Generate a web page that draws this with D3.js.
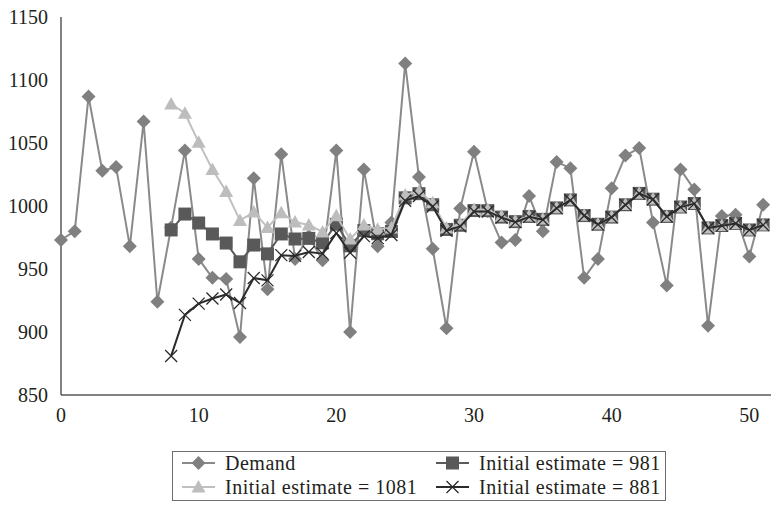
<!DOCTYPE html>
<html>
<head>
<meta charset="utf-8">
<script src="https://cdn.jsdelivr.net/npm/d3@7"></script>
<style>
  body { margin: 0; background: #fff; }
  svg text { font-family: "Liberation Serif", "DejaVu Serif", serif; fill: #231f20; }
</style>
</head>
<body>
<div id="chart"></div>
<script>
// --- data ------------------------------------------------------
var demand = [973, 980, 1087, 1028, 1031, 968, 1067, 924, 983, 1044,
              958, 943, 942, 896, 1022, 934, 1041, 958, 976, 957,
              1044, 900, 1029, 968, 987, 1113, 1023, 966, 903, 998,
              1043, 996, 971, 973, 1008, 980, 1035, 1030, 943, 958,
              1014, 1040, 1046, 987, 937, 1029, 1013, 905, 992, 993,
              960, 1001]

// estimates start at period 8
var estimateStart = 8

var est981 = [981, 993.6, 986.5, 977.8, 970.6, 955.7, 969, 962, 977.8, 973.8,
              974.3, 970.8, 985.5, 968.4, 980.5, 978, 979.8, 1006.5, 1009.8, 1001,
              981.4, 984.7, 996.4, 996.3, 991.2, 987.6, 991.7, 989.4, 998.5, 1004.8,
              992.4, 985.5, 991.2, 1001, 1010, 1005.4, 991.7, 999.2, 1002, 982.6,
              984.5, 986.2, 981, 985]

var est1081 = [1081, 1073.6, 1050.5, 1029, 1011.6, 988.5, 995.2, 983, 994.6, 987.3,
               985, 979.4, 992.3, 973.8, 984.9, 981.5, 982.6, 1008.7, 1011.6, 1002.5,
               982.6, 985.7, 997.2, 997, 991.8, 988, 992, 989.6, 998.7, 1005,
               992.6, 985.7, 991.4, 1001.1, 1010.1, 1005.5, 991.8, 999.2, 1002, 982.6,
               984.5, 986.2, 981, 985]

var est881 = [881, 913.6, 922.5, 926.6, 929.7, 923, 942.8, 941, 961, 960.4,
              963.5, 962.2, 978.6, 962.9, 976.1, 974.5, 977, 1004.2, 1008, 999.6,
              980.3, 983.8, 995.6, 995.7, 990.8, 987.2, 991.4, 989.1, 998.3, 1004.6,
              992.3, 985.4, 991.1, 1000.9, 1009.9, 1005.3, 991.6, 999.1, 1001.9, 982.5,
              984.4, 986.1, 980.9, 984.9]

var xTicks = [0, 10, 20, 30, 40, 50]
var yTicks = [850, 900, 950, 1000, 1050, 1100, 1150]

var seriesNames = ['Demand', 'Initial estimate = 981', 'Initial estimate = 1081', 'Initial estimate = 881']

// --- chart -----------------------------------------------------
var width = 771,
    height = 505

var svg = d3.select('#chart').append('svg')
  .attr('width', width)
  .attr('height', height)

var x = d3.scaleLinear().domain([0, 51.5]).range([61, 770])
var y = d3.scaleLinear().domain([850, 1150]).range([395, 17])

function toPoints(values, start) {
  return values.map((v, i) => ({ t: start + i, v: v }))
}

var series = [
  { name: seriesNames[0], points: toPoints(demand, 0), line: '#8a8a8a', fill: '#808080', shape: 'diamond' },
  { name: seriesNames[1], points: toPoints(est981, estimateStart), line: '#5a5a5a', fill: '#595959', shape: 'square' },
  { name: seriesNames[2], points: toPoints(est1081, estimateStart), line: '#c0c0c0', fill: '#bdbdbd', shape: 'triangle' },
  { name: seriesNames[3], points: toPoints(est881, estimateStart), line: '#2b2b2b', fill: '#2b2b2b', shape: 'cross' }
]

// marker paths centred at 0,0
function markerPath(shape) {
  if (shape === 'diamond') return 'M0,-7L7,0L0,7L-7,0Z'
  if (shape === 'square') return 'M-6.5,-6.5H6.5V6.5H-6.5Z'
  if (shape === 'triangle') return 'M0,-7L7,5.5H-7Z'
  return 'M-6,-6L6,6M-6,6L6,-6'
}

function drawMarker(g, s) {
  var p = g.append('path').attr('d', markerPath(s.shape))
  if (s.shape === 'cross') p.attr('fill', 'none').attr('stroke', s.fill).attr('stroke-width', 1.3)
  else p.attr('fill', s.fill)
}

// axes
svg.append('line')
  .attr('x1', x(0)).attr('x2', x(0))
  .attr('y1', y(1150)).attr('y2', y(850))
  .attr('stroke', '#595959').attr('stroke-width', 1.5)

svg.append('line')
  .attr('x1', x(0)).attr('x2', 771)
  .attr('y1', y(850)).attr('y2', y(850))
  .attr('stroke', '#595959').attr('stroke-width', 1.5)

svg.append('g').selectAll('text')
  .data(yTicks)
  .enter().append('text')
    .attr('x', 48)
    .attr('y', (d) => y(d) + 6.5)
    .attr('text-anchor', 'end')
    .style('font-size', '20px')
    .text((d) => d)

svg.append('g').selectAll('text')
  .data(xTicks)
  .enter().append('text')
    .attr('x', (d) => x(d))
    .attr('y', 422)
    .attr('text-anchor', 'middle')
    .style('font-size', '20px')
    .text((d) => d)

// series: line then markers, in series order
var line = d3.line().x((d) => x(d.t)).y((d) => y(d.v))

series.forEach((s) => {
  var g = svg.append('g')
  g.append('path')
    .datum(s.points)
    .attr('d', line)
    .attr('fill', 'none')
    .attr('stroke', s.line)
    .attr('stroke-width', 2)
    .attr('stroke-linejoin', 'round')

  g.selectAll('g.m')
    .data(s.points)
    .enter().append('g')
      .attr('class', 'm')
      .attr('transform', (d) => `translate(${x(d.t)},${y(d.v)})`)
      .each(function() { drawMarker(d3.select(this), s) })
})

// --- legend ------------------------------------------------------
var legend = svg.append('g')

legend.append('rect')
  .attr('x', 172.5).attr('y', 451.5)
  .attr('width', 493).attr('height', 49)
  .attr('fill', '#fff')
  .attr('stroke', '#6d6d6d')
  .attr('stroke-width', 1)

var legendPos = [
  { x: 182, y: 463 },
  { x: 436, y: 463 },
  { x: 182, y: 487 },
  { x: 436, y: 487 }
]

series.forEach((s, i) => {
  var p = legendPos[i]
  var item = legend.append('g').attr('transform', `translate(${p.x},${p.y})`)
  item.append('line')
    .attr('x1', 0).attr('x2', 33)
    .attr('y1', 0).attr('y2', 0)
    .attr('stroke', s.line).attr('stroke-width', 2)
  var m = item.append('g').attr('transform', 'translate(16.5,0)')
  drawMarker(m, s)
  item.append('text')
    .attr('x', 43)
    .attr('y', 6.5)
    .style('font-size', '20px')
    .style('letter-spacing', '0.5px')
    .text(s.name)
})
</script>
</body>
</html>
